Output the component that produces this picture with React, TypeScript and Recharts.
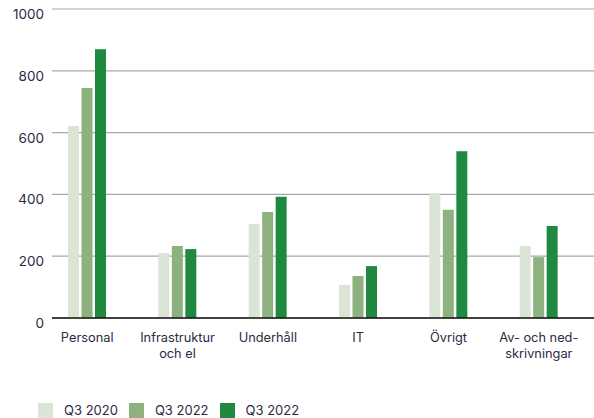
import { Bar, BarChart, CartesianGrid, XAxis, YAxis } from "recharts";

const categories = [
  "Personal",
  "Infrastruktur\noch el",
  "Underhåll",
  "IT",
  "Övrigt",
  "Av- och ned-\nskrivningar",
];
const q3_2020 = [621, 210, 304, 107, 404, 233];
const q3_2022a = [744, 233, 343, 136, 350, 197];
const q3_2022b = [870, 223, 392, 168, 540, 298];
const yTicks = [0, 200, 400, 600, 800, 1000];

const series = [
  { key: "q3_2020", name: "Q3 2020", color: "#dbe5d6" },
  { key: "q3_2022a", name: "Q3 2022", color: "#8db27f" },
  { key: "q3_2022b", name: "Q3 2022", color: "#1f8a3f" },
];

const data = categories.map((label, i) => ({
  label,
  q3_2020: q3_2020[i],
  q3_2022a: q3_2022a[i],
  q3_2022b: q3_2022b[i],
}));

const font = "Inter, 'Noto Sans', sans-serif";
const textColor = "#2b2b42";

// each label line is its own text so wrapped labels don't collide
function XTick({ x, y, payload }: { x?: number; y?: number; payload?: { value: string } }) {
  const lines = String(payload?.value ?? "").split("\n");
  return (
    <g>
      {lines.map((line, i) => (
        <text
          key={i}
          x={x}
          y={(y ?? 0) + 16 + i * 15.5}
          textAnchor="middle"
          fontSize={12.8}
          fontFamily={font}
          fill={textColor}
        >
          {line}
        </text>
      ))}
    </g>
  );
}

function YTick({ x, y, payload }: { x?: number; y?: number; payload?: { value: number } }) {
  return (
    <text x={x} y={(y ?? 0) + 10} textAnchor="end" fontSize={13.5} fontFamily={font} fill={textColor}>
      {payload?.value}
    </text>
  );
}

export default function App() {
  return (
    <div style={{ position: "absolute", left: 0, top: 0, width: 594, height: 418 }}>
      <BarChart
        width={594}
        height={418}
        data={data}
        margin={{ top: 9, right: 0, left: 0, bottom: 40 }}
        barSize={11}
        barGap={2.5}
      >
        <CartesianGrid vertical={false} stroke="#a8a8a8" strokeWidth={1.2} />
        <XAxis
          dataKey="label"
          height={60}
          tickLine={false}
          axisLine={{ stroke: "#111", strokeWidth: 1.6 }}
          padding={{ left: -10, right: 10 }}
          interval={0}
          tick={<XTick />}
        />
        <YAxis
          width={52}
          domain={[0, 1000]}
          ticks={yTicks}
          tickLine={false}
          axisLine={false}
          tick={<YTick />}
        />
        {series.map((s) => (
          <Bar key={s.key} dataKey={s.key} name={s.name} fill={s.color} isAnimationActive={false} />
        ))}
      </BarChart>
      <div
        style={{
          position: "absolute",
          left: 38,
          top: 403,
          display: "flex",
          alignItems: "center",
          fontFamily: font,
          fontSize: 13,
          color: textColor,
        }}
      >
        {series.map((s, i) => (
          <div key={s.key} style={{ display: "flex", alignItems: "center", marginLeft: i === 0 ? 0 : 11 }}>
            <span style={{ width: 15, height: 15, background: s.color, display: "inline-block" }} />
            <span style={{ marginLeft: 11, lineHeight: "15px" }}>{s.name}</span>
          </div>
        ))}
      </div>
    </div>
  );
}
